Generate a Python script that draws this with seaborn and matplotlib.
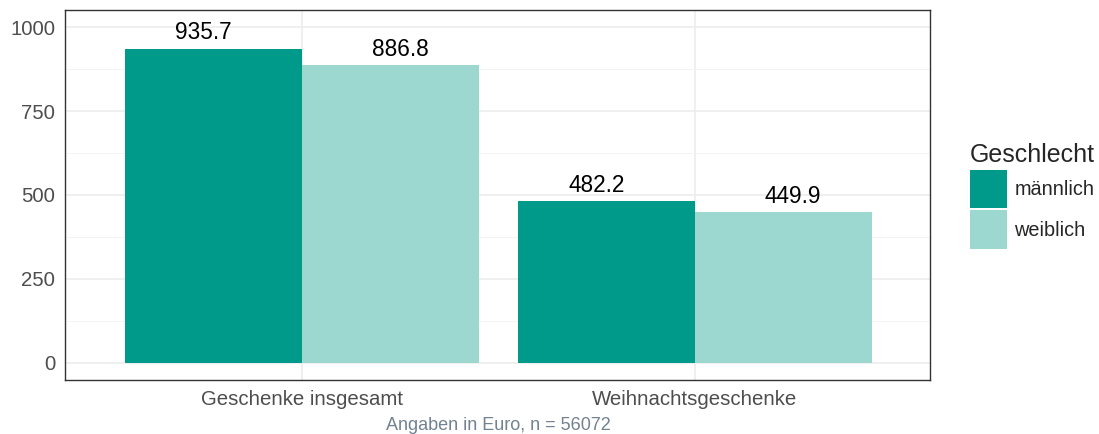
import matplotlib
matplotlib.use("Agg")
import matplotlib.pyplot as plt
import pandas as pd
import seaborn as sns

# data
kategorien = ["Geschenke insgesamt", "Weihnachtsgeschenke"]
geschlecht = ["männlich", "weiblich"]
werte_maennlich = [935.7, 482.2]
werte_weiblich = [886.8, 449.9]
farben = ["#009A8A", "#9CD7D0"]
caption = "Angaben in Euro, n = 56072"

df = pd.DataFrame({
    "kategorie": kategorien * 2,
    "geschlecht": [geschlecht[0]] * 2 + [geschlecht[1]] * 2,
    "wert": werte_maennlich + werte_weiblich,
})

sns.set_style("white")
plt.rcParams["font.family"] = ["Liberation Sans", "DejaVu Sans"]

fig = plt.figure(figsize=(10.99, 4.34), dpi=100)
ax = fig.add_axes([65 / 1099, 54 / 434, 865 / 1099, 370 / 434])

sns.barplot(
    data=df, x="kategorie", y="wert", hue="geschlecht",
    palette=farben, width=0.9, saturation=1, linewidth=0,
    ax=ax, zorder=2,
)

# labels dodged by 0.5 like in the original (text dodge wider than bars)
for j, werte in enumerate([werte_maennlich, werte_weiblich]):
    for i, w in enumerate(werte):
        ax.annotate(f"{w:.1f}", xy=(i - 0.25 + 0.5 * j, w), xytext=(0, 3),
                    textcoords="offset points", ha="center", va="bottom",
                    fontsize=16.3, color="black")

ax.set_ylim(-50.6, 1050.6)
ax.set_xlim(-0.603, 1.598)
ax.set_yticks([0, 250, 500, 750, 1000])
ax.set_yticks([125, 375, 625, 875], minor=True)

ax.grid(True, which="major", color="#EBEBEB", lw=1.1, zorder=0)
ax.grid(True, which="minor", axis="y", color="#F2F2F2", lw=0.6, zorder=0)
ax.set_axisbelow(True)

for s in ax.spines.values():
    s.set_color("#333333")
    s.set_linewidth(1.0)

ax.tick_params(axis="both", which="major", length=4, width=1, color="#333333",
               labelsize=14.7, labelcolor="#4D4D4D", pad=3)
ax.tick_params(axis="y", which="minor", length=0)
ax.set_xlabel("")
ax.set_ylabel("")

leg = ax.legend(
    title="Geschlecht", loc="upper left", bbox_to_anchor=(1.046, 0.64),
    frameon=False, fontsize=14.3, title_fontsize=18,
    handlelength=1.85, handleheight=2.6, handletextpad=0.4,
    labelspacing=0.12, borderaxespad=0, borderpad=0,
)
leg._legend_box.align = "left"

fig.text(498 / 1099, 4 / 434, caption, ha="center", va="baseline",
         fontsize=13, color="#738290")

fig.savefig("out.png", dpi=100)
